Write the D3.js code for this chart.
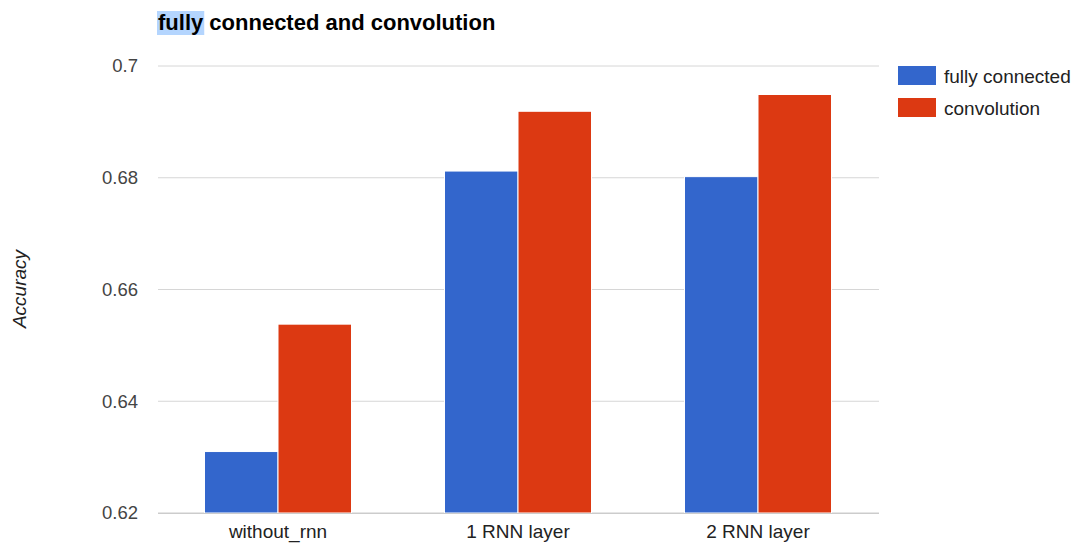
<!DOCTYPE html>
<html><head><meta charset="utf-8">
<script src="https://cdn.jsdelivr.net/npm/d3@7"></script>
<style>body{margin:0;background:#fff}svg{display:block;font-family:"Liberation Sans",Arial,sans-serif}</style>
</head><body><svg id="c" width="1075" height="546"></svg>
<script>
const categories = ["without_rnn", "1 RNN layer", "2 RNN layer"];
const seriesNames = ["fully connected", "convolution"];
const fullyConnected = [0.631, 0.6812, 0.6802];
const convolution = [0.6538, 0.6919, 0.6949];
const yTicks = [0.62, 0.64, 0.66, 0.68, 0.7];
const colors = ["#3366cc", "#dc3912"];

const svg = d3.select("#c");
const L = 158, R = 879, T = 66, B = 513;
const x = d3.scaleBand().domain(categories).range([L, L + 720]).paddingInner(0.3875).paddingOuter(0.19375);
const x1 = d3.scaleBand().domain(seriesNames).range([0, x.bandwidth()]);
const y = d3.scaleLinear().domain([0.62, 0.7]).range([B, T]);

// grid
svg.append("g").selectAll("line").data(yTicks).join("line")
  .attr("x1", L).attr("x2", R).attr("y1", d => y(d)).attr("y2", d => y(d))
  .attr("stroke", d => d === 0.62 ? "#cccccc" : "#d6d6d6").attr("stroke-width", 1);

const yAxis = d3.axisLeft(y).tickValues(yTicks).tickFormat(d => d === 0.7 ? "0.7" : d3.format(".2f")(d)).tickSize(0).tickPadding(20);
const ga = svg.append("g").attr("transform", `translate(${L},0)`).call(yAxis);
ga.select(".domain").remove();
ga.selectAll("text").attr("font-size", 18.5).attr("fill", "#444").attr("font-family", "Liberation Sans, Arial, sans-serif");

const data = categories.map((c, i) => ({c, vals: [fullyConnected[i], convolution[i]]}));
const g = svg.append("g").selectAll("g").data(data).join("g").attr("transform", d => `translate(${x(d.c)},0)`);
g.selectAll("rect").data(d => d.vals.map((v, j) => ({v, s: seriesNames[j], j}))).join("rect")
  .attr("x", d => x1(d.s)).attr("width", x1.bandwidth())
  .attr("y", d => y(d.v)).attr("height", d => B - y(d.v))
  .attr("fill", d => colors[d.j]).attr("stroke", "#fff").attr("stroke-width", 1);

// baseline
svg.append("line").attr("x1", L).attr("x2", R).attr("y1", B + 0.5).attr("y2", B + 0.5).attr("stroke", "#ccc");

const xAxis = d3.axisBottom(x).tickSize(0).tickPadding(12);
const gx = svg.append("g").attr("transform", `translate(0,${B})`).call(xAxis);
gx.select(".domain").remove();
gx.selectAll("text").attr("font-size", 19).attr("fill", "#222").attr("font-family", "Liberation Sans, Arial, sans-serif");

// axis title
svg.append("text").attr("transform", "translate(26,289) rotate(-90)").attr("text-anchor", "middle")
  .attr("font-size", 19).attr("font-style", "italic").attr("fill", "#222").text("Accuracy");

// title with highlight
const tg = svg.append("g");
const hl = tg.append("rect").attr("fill", "#b4d5fe");
const title = tg.append("text").attr("x", 158).attr("y", 30).attr("font-size", 22).attr("font-weight", "bold").attr("fill", "#000");
title.append("tspan").attr("id", "w1").text("fully");
title.append("tspan").text(" connected and convolution");
const w = document.getElementById("w1").getComputedTextLength();
hl.attr("x", 157).attr("y", 11).attr("width", w + 2).attr("height", 24);

// legend
const lg = svg.append("g").selectAll("g").data(seriesNames).join("g").attr("transform", (d, i) => `translate(898,${66 + i * 32})`);
lg.append("rect").attr("width", 38).attr("height", 19).attr("fill", (d, i) => colors[i]);
lg.append("text").attr("x", 46).attr("y", 16.5).attr("font-size", 19).attr("fill", "#222").text(d => d);
</script></body></html>
